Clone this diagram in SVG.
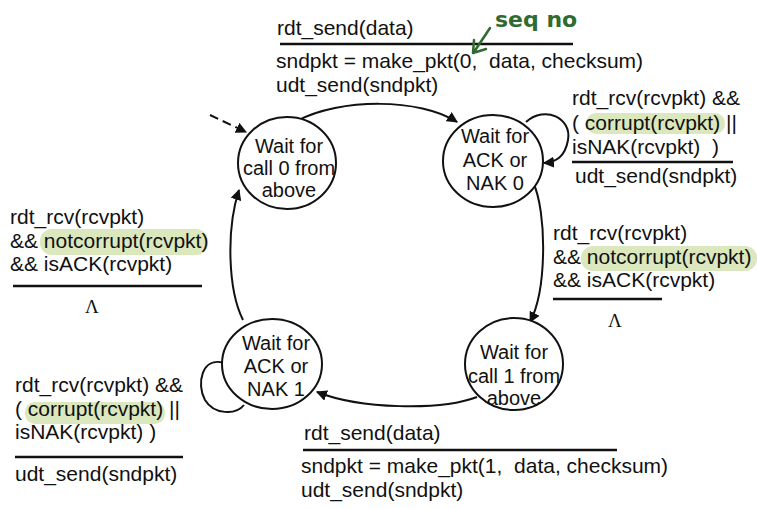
<svg xmlns="http://www.w3.org/2000/svg" width="757" height="509" viewBox="0 0 757 509">
  <style>
    .lbl { font-family: "Liberation Sans", Arial, sans-serif; font-size: 21px; fill: #111; white-space: pre; }
    .st { font-family: "Liberation Sans", Arial, sans-serif; font-size: 20px; fill: #111; text-anchor: middle; }
    .lam { font-family: "Liberation Serif", "Times New Roman", serif; font-size: 19px; fill: #111; }
    .state { fill: #fff; stroke: #111; stroke-width: 2; }
    .rule { stroke: #111; stroke-width: 2.5; }
    .hl { fill: #dbe7bd; }
    .edge { fill: none; stroke: #111; stroke-width: 2; }
    .note { font-family: "DejaVu Sans", sans-serif; font-size: 22px; font-weight: bold; fill: #2f6b30; }
  </style>
  <defs>
    <marker id="arrow" viewBox="0 0 10 10" refX="9" refY="5" markerWidth="5.5" markerHeight="5.5" orient="auto-start-reverse">
      <path d="M0,0 L10,5 L0,10 z" fill="#111"/>
    </marker>
  </defs>
  <rect width="757" height="509" fill="#fff"/>

  <!-- connectors -->
  <g id="connectors">
    <path class="edge" d="M210,115 L246,132" stroke-dasharray="9,5" stroke-width="2.5" marker-end="url(#arrow)"/>
    <path class="edge" d="M297,121 C340,98 420,98 457,122" marker-end="url(#arrow)"/>
    <path class="edge" d="M526,122 C545,105 572,118 568,140 C565,157 556,162 544,163" marker-end="url(#arrow)"/>
    <path class="edge" d="M533,182 C547,212 547,290 530,322" marker-end="url(#arrow)"/>
    <path class="edge" d="M477,397 C440,411 360,409 317,392" marker-end="url(#arrow)"/>
    <path class="edge" d="M243,320 C228,290 226,230 239,190" marker-end="url(#arrow)"/>
    <path class="edge" d="M224,363 C202,356 196,384 205,400 C214,415 236,415 244,405"/>
  </g>

  <!-- states -->
  <g id="wait-call0">
    <ellipse class="state" cx="287" cy="163" rx="49" ry="46"/>
    <text class="st" x="289" y="153">Wait for</text>
    <text class="st" x="289" y="175">call 0 from</text>
    <text class="st" x="289" y="197">above</text>
  </g>
  <g id="wait-ack0">
    <ellipse class="state" cx="493" cy="161" rx="50" ry="46"/>
    <text class="st" x="495" y="143">Wait for</text>
    <text class="st" x="495" y="167">ACK or</text>
    <text class="st" x="495" y="190">NAK 0</text>
  </g>
  <g id="wait-ack1">
    <ellipse class="state" cx="272" cy="364" rx="50" ry="45"/>
    <text class="st" x="276" y="350">Wait for</text>
    <text class="st" x="276" y="373">ACK or</text>
    <text class="st" x="276" y="396">NAK 1</text>
  </g>
  <g id="wait-call1">
    <ellipse class="state" cx="514" cy="364" rx="49" ry="46"/>
    <text class="st" x="514" y="359">Wait for</text>
    <text class="st" x="514" y="383">call 1 from</text>
    <text class="st" x="514" y="405">above</text>
  </g>

  <!-- transition labels -->
  <g id="label-send0">
    <text class="lbl" x="277" y="35">rdt_send(data)</text>
    <line class="rule" x1="280" y1="44" x2="573" y2="44"/>
    <text class="lbl" x="276" y="68">sndpkt = make_pkt(0,  data, checksum)</text>
    <text class="lbl" x="276" y="92">udt_send(sndpkt)</text>
  </g>
  <g id="seq-note">
    <text class="note" x="495" y="27">seq no</text>
    <path d="M490,28 Q482,40 474,52 M473,53 L474,40 M473,53 L486,49" fill="none" stroke="#2f6b30" stroke-width="2.5" stroke-linecap="round"/>
  </g>
  <g id="label-loop0">
    <rect class="hl" x="586" y="113" width="139" height="21" rx="10"/>
    <text class="lbl" x="572" y="105">rdt_rcv(rcvpkt) &amp;&amp;</text>
    <text class="lbl" x="572" y="130">( corrupt(rcvpkt) ||</text>
    <text class="lbl" x="572" y="154">isNAK(rcvpkt)  )</text>
    <line class="rule" x1="572" y1="162" x2="733" y2="162"/>
    <text class="lbl" x="575" y="183">udt_send(sndpkt)</text>
  </g>
  <g id="label-ack1">
    <rect class="hl" x="40" y="229" width="168" height="26" rx="12"/>
    <text class="lbl" x="10" y="224">rdt_rcv(rcvpkt)</text>
    <text class="lbl" x="10" y="248">&amp;&amp; notcorrupt(rcvpkt)</text>
    <text class="lbl" x="10" y="271">&amp;&amp; isACK(rcvpkt)</text>
    <line class="rule" x1="13" y1="286" x2="202" y2="286"/>
    <text class="lam" x="85" y="313">Λ</text>
  </g>
  <g id="label-ack0">
    <rect class="hl" x="581" y="246" width="176" height="25" rx="12"/>
    <text class="lbl" x="553" y="240">rdt_rcv(rcvpkt)</text>
    <text class="lbl" x="553" y="264">&amp;&amp; notcorrupt(rcvpkt)</text>
    <text class="lbl" x="553" y="287">&amp;&amp; isACK(rcvpkt)</text>
    <line class="rule" x1="553" y1="299" x2="662" y2="299"/>
    <text class="lam" x="608" y="327">Λ</text>
  </g>
  <g id="label-loop1">
    <rect class="hl" x="25" y="402" width="140" height="22" rx="10"/>
    <text class="lbl" x="15" y="392">rdt_rcv(rcvpkt) &amp;&amp;</text>
    <text class="lbl" x="15" y="416">( corrupt(rcvpkt) ||</text>
    <text class="lbl" x="15" y="439">isNAK(rcvpkt) )</text>
    <line class="rule" x1="15" y1="457" x2="183" y2="457"/>
    <text class="lbl" x="15" y="481">udt_send(sndpkt)</text>
  </g>
  <g id="label-send1">
    <text class="lbl" x="304" y="440">rdt_send(data)</text>
    <line class="rule" x1="303" y1="450" x2="617" y2="450"/>
    <text class="lbl" x="301" y="473">sndpkt = make_pkt(1,  data, checksum)</text>
    <text class="lbl" x="301" y="497">udt_send(sndpkt)</text>
  </g>
</svg>
